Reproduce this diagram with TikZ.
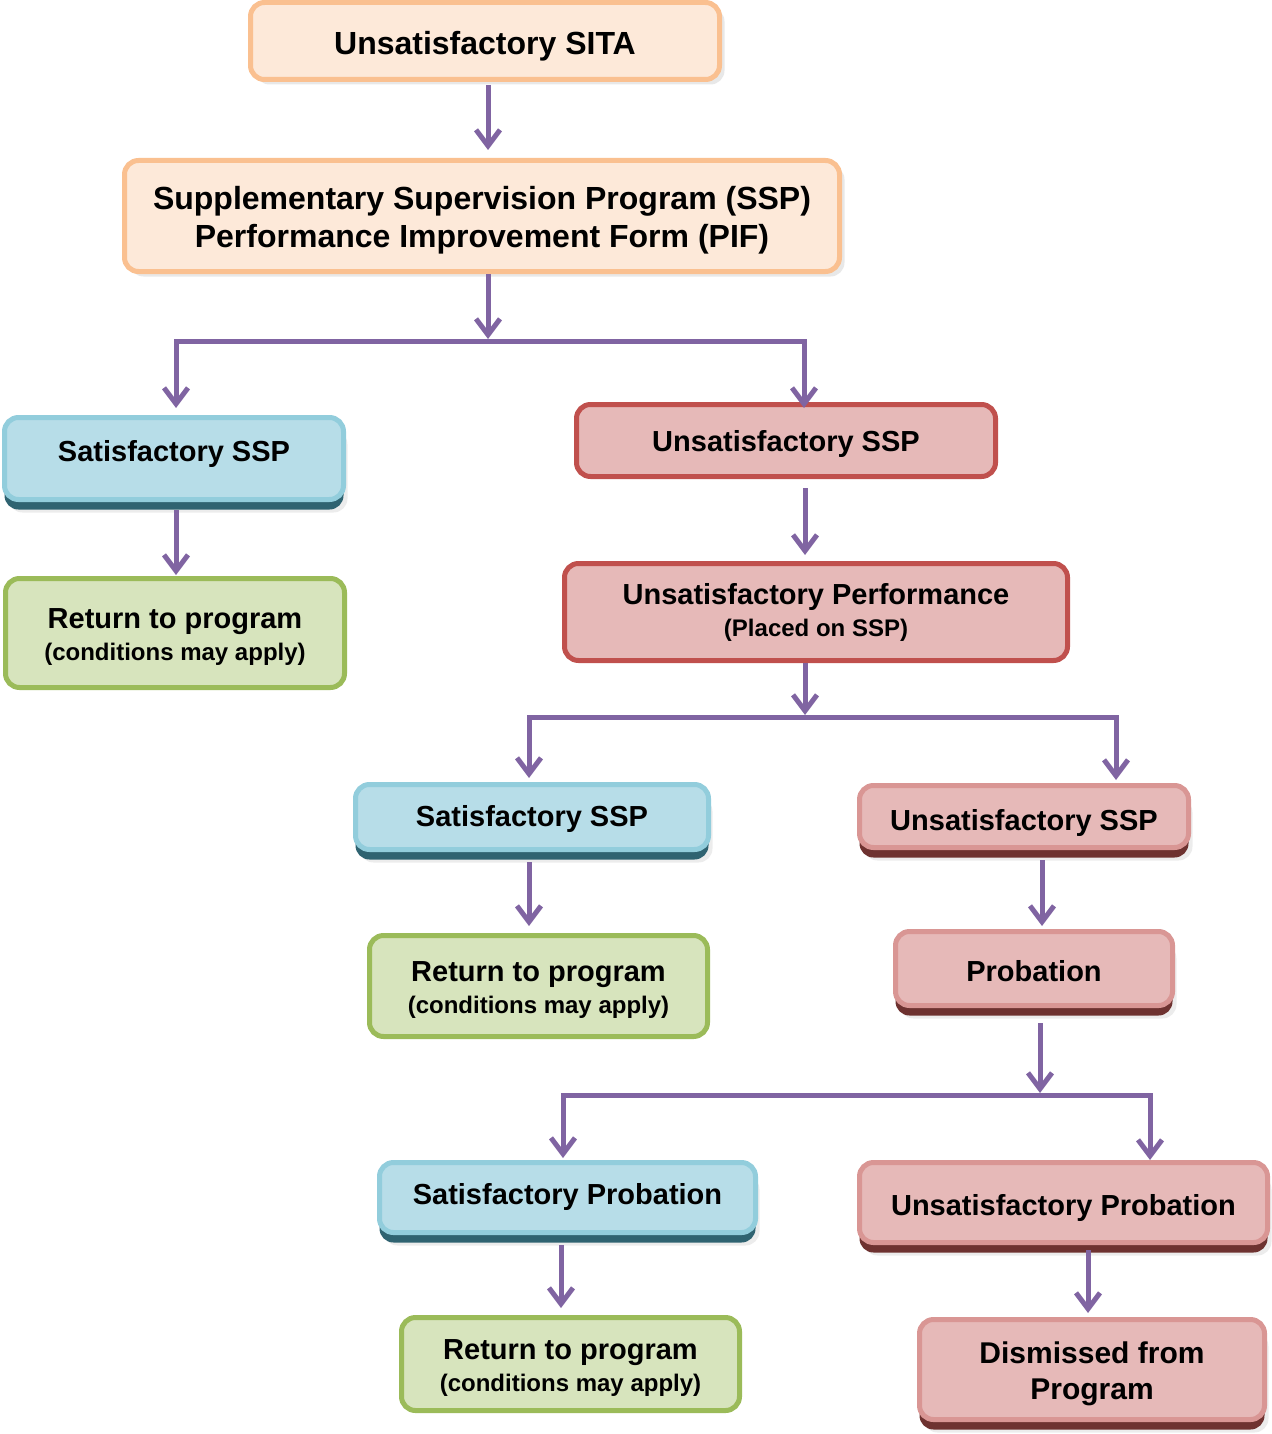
\documentclass[tikz,border=0pt]{standalone}
\usepackage{fontspec}
\setmainfont{Liberation Sans}
\usetikzlibrary{shadows,arrows.meta,calc}
\definecolor{arrowc}{HTML}{8064A2}
\definecolor{orfill}{HTML}{FDE9D9}
\definecolor{ordraw}{HTML}{FAC090}
\definecolor{bluefill}{HTML}{B7DDE8}
\definecolor{bluedraw}{HTML}{92CDDC}
\definecolor{bluedark}{HTML}{2F6371}
\definecolor{redfill}{HTML}{E6B9B8}
\definecolor{reddraw}{HTML}{C0504D}
\definecolor{reddrawb}{HTML}{D99694}
\definecolor{reddark}{HTML}{6E3230}
\definecolor{greenfill}{HTML}{D7E4BD}
\definecolor{greendraw}{HTML}{9BBB59}
\tikzset{
  boxbase/.style={rectangle, rounded corners=14pt, line width=5pt, inner sep=0pt,
    align=center, font=\fontsize{29}{32}\selectfont\bfseries, text=black},
  orbox/.style={boxbase, fill=orfill, draw=ordraw,
    drop shadow={shadow xshift=5pt, shadow yshift=-5pt, opacity=.18}},
  bluebox/.style={boxbase, fill=bluefill, draw=bluedraw,
    drop shadow={shadow xshift=4pt, shadow yshift=-13pt, opacity=.15},
    drop shadow={shadow xshift=0pt, shadow yshift=-10pt, fill=bluedark, opacity=1}},
  redbox/.style={boxbase, fill=redfill, draw=reddraw},
  redboxb/.style={boxbase, fill=redfill, draw=reddrawb,
    drop shadow={shadow xshift=4pt, shadow yshift=-13pt, opacity=.15},
    drop shadow={shadow xshift=0pt, shadow yshift=-10pt, fill=reddark, opacity=1}},
  greenbox/.style={boxbase, fill=greenfill, draw=greendraw},
  arr/.style={draw=arrowc, line width=5pt, -{Straight Barb[length=16pt,width=24pt]}},
  arrboth/.style={draw=arrowc, line width=5pt,
    {Straight Barb[length=16pt,width=24pt]}-{Straight Barb[length=16pt,width=24pt]}}
}
\newcommand{\smalltext}[1]{{\fontsize{24}{28}\selectfont #1}}
\newcommand{\ta}[1]{\rule{0pt}{#1pt}}
\newcommand{\tb}[1]{\rule[-#1pt]{0pt}{#1pt}}
\begin{document}
\begin{tikzpicture}[x=1pt,y=-1pt]
\useasboundingbox (0,0) rectangle (1271,1434);
% boxes
\node[orbox, minimum width=469pt, minimum height=77pt, font=\fontsize{32}{38}\selectfont\bfseries] (sita) at (485,41)
  {\ta{34}Unsatisfactory SITA\tb{7}};
\node[orbox, minimum width=715pt, minimum height=111pt, font=\fontsize{32}{38}\selectfont\bfseries] (ssp) at (482,216)
  {\ta{32}Supplementary Supervision Program (SSP)\\Performance Improvement Form (PIF)\tb{7}};
\node[bluebox, minimum width=339pt, minimum height=82pt] (sat1) at (174,458.5)
  {\ta{24}Satisfactory SSP\tb{18}};
\node[greenbox, minimum width=339pt, minimum height=109pt] (ret1) at (175,633)
  {\ta{29}Return to program\\\smalltext{(conditions may apply)}\tb{7}};
\node[redbox, minimum width=419pt, minimum height=72pt] (uns1) at (786,440.5)
  {\ta{29}Unsatisfactory SSP\tb{7}};
\node[redbox, minimum width=503pt, minimum height=97pt] (uperf) at (816,612)
  {\ta{23}Unsatisfactory Performance\\\smalltext{(Placed on SSP)}\tb{7}};
\node[bluebox, minimum width=353pt, minimum height=65pt] (sat2) at (532,817)
  {\ta{26.4}Satisfactory SSP\tb{7}};
\node[redboxb, minimum width=329pt, minimum height=62pt] (uns2) at (1024,816.5)
  {\ta{34}Unsatisfactory SSP\tb{7}};
\node[greenbox, minimum width=338pt, minimum height=101pt] (ret2) at (538.5,986)
  {\ta{29}Return to program\\\smalltext{(conditions may apply)}\tb{7}};
\node[redboxb, minimum width=277pt, minimum height=74pt] (prob) at (1034,968.5)
  {\ta{33}Probation\tb{7}};
\node[bluebox, minimum width=376pt, minimum height=70pt] (satp) at (567.5,1197.5)
  {\ta{24}Satisfactory Probation\tb{11}};
\node[redboxb, minimum width=408pt, minimum height=80pt] (unsp) at (1063.5,1202.5)
  {\ta{32}Unsatisfactory Probation\tb{7}};
\node[greenbox, minimum width=338pt, minimum height=93pt] (ret3) at (570.5,1364)
  {\ta{29}Return to program\\\smalltext{(conditions may apply)}\tb{7}};
\node[redboxb, minimum width=345pt, minimum height=100pt, font=\fontsize{30}{36}\selectfont\bfseries] (dism) at (1092,1369.5)
  {\ta{31}Dismissed from\\Program\tb{7}};
% junction points
\coordinate (bar1) at (488,341);
\coordinate (bar2) at (805,717);
\coordinate (bar3) at (1040,1095);
% connectors
\draw[arr, shorten <=3pt, shorten >=8pt] ([xshift=3pt]sita.south) -- ([xshift=3pt]sita.south |- ssp.north);
\draw[arr, shorten >=2pt] (ssp.south -| bar1) -- (bar1);
\draw[arrboth, shorten <=7pt, shorten >=-6pt] ([xshift=2pt]sat1.north) |- (bar1) -| ([xshift=18pt]uns1.north);
\draw[arr, shorten <=8pt, shorten >=1pt] ([xshift=2pt]sat1.south) -- ([xshift=2pt]sat1.south |- ret1.north);
\draw[arr, shorten <=9pt, shorten >=6pt] ([xshift=19pt]uns1.south) -- ([xshift=19pt]uns1.south |- uperf.north);
\draw[arr, shorten >=2pt] (uperf.south -| bar2) -- (bar2);
\draw[arrboth, shorten <=4pt, shorten >=3pt] ([xshift=-3pt]sat2.north) |- (bar2) -| ([xshift=92pt]uns2.north);
\draw[arr, shorten <=10pt, shorten >=7pt] ([xshift=-3pt]sat2.south) -- ([xshift=-3pt]sat2.south |- ret2.north);
\draw[arr, shorten <=10pt, shorten >=3pt] ([xshift=18pt]uns2.south) -- ([xshift=18pt]uns2.south |- prob.north);
\draw[arr, shorten <=15pt, shorten >=2pt] (prob.south -| bar3) -- (bar3);
\draw[arrboth, shorten <=2pt, shorten >=0pt] ([xshift=-4.5pt]satp.north) |- (bar3) -| ([xshift=86.5pt]unsp.north);
\draw[arr, shorten <=10pt, shorten >=7pt] ([xshift=-6.5pt]satp.south) -- ([xshift=-6.5pt]satp.south |- ret3.north);
\draw[arr, shorten <=5pt, shorten >=4pt] ([xshift=24.5pt]unsp.south) -- ([xshift=24.5pt]unsp.south |- dism.north);
\end{tikzpicture}
\end{document}
